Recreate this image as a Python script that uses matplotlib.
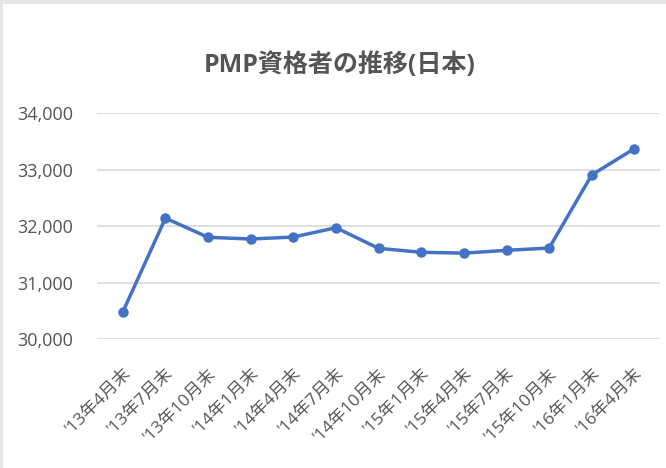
import matplotlib
matplotlib.use("Agg")
import matplotlib.pyplot as plt
import matplotlib.transforms as mtransforms
from matplotlib.patches import Rectangle

# データ
periods = ["'13年4月末", "'13年7月末", "'13年10月末", "'14年1月末", "'14年4月末",
           "'14年7月末", "'14年10月末", "'15年1月末", "'15年4月末", "'15年7月末",
           "'15年10月末", "'16年1月末", "'16年4月末"]
holders = [30480, 32140, 31800, 31770, 31805, 31970, 31605,
           31535, 31520, 31570, 31610, 32905, 33370]
y_ticks = [30000, 31000, 32000, 33000, 34000]

fonts = ['Open Sans', 'Noto Sans CJK JP', 'DejaVu Sans']
plt.rcParams['font.family'] = fonts
gray = '#555555'

fig = plt.figure(figsize=(6.66, 4.68), dpi=100)
fig.patch.set_facecolor('white')
# 枠の影 (上と左)
fig.patches.append(Rectangle((0, 1 - 4 / 468), 1, 4 / 468, transform=fig.transFigure,
                             facecolor='#e6e6e6', edgecolor='none'))
fig.patches.append(Rectangle((0, 0), 3 / 666, 1, transform=fig.transFigure,
                             facecolor='#e6e6e6', edgecolor='none'))

ax = fig.add_axes([0.146, 0.2756, 0.845, 0.4829])
x = range(len(periods))
ax.plot(x, holders, color='#4472C4', linewidth=2.5, marker='o',
        markersize=6.5, solid_capstyle='round', zorder=3)

ax.set_xlim(-0.6, len(periods) - 0.4)
ax.set_ylim(30000, 34000)
ax.set_yticks(y_ticks)
ax.set_yticklabels([f"{v:,}" for v in y_ticks], fontsize=13, color=gray)
ax.set_xticks(list(x))
ax.set_xticklabels(periods, rotation=45, ha='right', rotation_mode='anchor',
                   fontsize=12.5, color=gray)
# ラベルを少し右へ
shift = mtransforms.ScaledTranslation(4 / 100, 0, fig.dpi_scale_trans)
for lbl in ax.get_xticklabels():
    lbl.set_transform(lbl.get_transform() + shift)
ax.grid(axis='y', color='#d9d9d9', linewidth=1.2)
ax.set_axisbelow(True)
ax.tick_params(axis='y', length=0, pad=17)
ax.tick_params(axis='x', length=0, pad=19)
for s in ax.spines.values():
    s.set_visible(False)

fig.text(0.51, 0.861, "PMP資格者の推移(日本)", ha='center', va='center',
         fontsize=18, fontweight='bold', color=gray)

fig.savefig("out.png", dpi=100)
